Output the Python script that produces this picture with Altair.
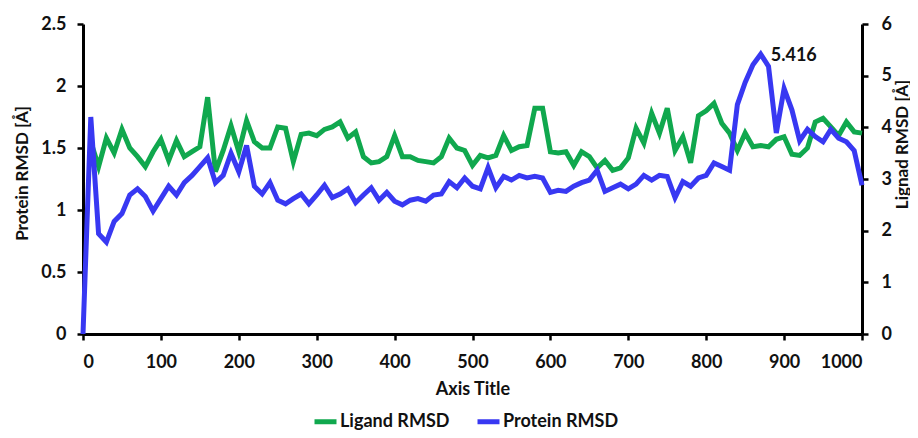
import altair as alt
import pandas as pd

# time axis (every 10 units)
time_all = list(range(0, 1001, 10))

# Protein RMSD (plotted on the right axis, 0-6)
protein_rmsd = [
    0.00, 4.20, 1.94, 1.78, 2.18, 2.33, 2.69, 2.81, 2.66, 2.38,
    2.62, 2.86, 2.69, 2.93, 3.07, 3.24, 3.41, 2.93, 3.07, 3.50,
    3.14, 3.65, 2.86, 2.71, 2.93, 2.59, 2.52, 2.62, 2.71, 2.52,
    2.69, 2.88, 2.64, 2.71, 2.81, 2.54, 2.69, 2.83, 2.59, 2.74,
    2.57, 2.50, 2.59, 2.62, 2.57, 2.69, 2.71, 2.95, 2.83, 3.02,
    2.86, 2.81, 3.22, 2.83, 3.05, 2.98, 3.07, 3.02, 3.05, 3.02,
    2.74, 2.78, 2.76, 2.86, 2.93, 2.98, 3.17, 2.76, 2.83, 2.90,
    2.81, 2.90, 3.07, 2.98, 3.07, 3.05, 2.64, 2.95, 2.86, 3.02,
    3.07, 3.31, 3.24, 3.17, 4.44, 4.87, 5.21, 5.416, 5.18, 3.89,
    4.75, 4.34, 3.74, 3.96, 3.82, 3.72, 3.96, 3.79, 3.72, 3.55,
    2.88,
]

# Ligand RMSD (plotted on the left axis, 0-2.5), starts at t=10
time_lig = list(range(10, 1001, 10))
ligand_rmsd = [
    1.55, 1.35, 1.58, 1.46, 1.65, 1.50, 1.43, 1.35, 1.47,
    1.57, 1.40, 1.56, 1.43, 1.47, 1.51, 1.91, 1.31, 1.48, 1.68,
    1.47, 1.72, 1.55, 1.50, 1.50, 1.67, 1.66, 1.39, 1.61, 1.62,
    1.60, 1.65, 1.67, 1.71, 1.58, 1.63, 1.43, 1.38, 1.39, 1.43,
    1.60, 1.43, 1.43, 1.40, 1.39, 1.38, 1.43, 1.58, 1.50, 1.48,
    1.36, 1.44, 1.42, 1.44, 1.60, 1.48, 1.51, 1.52, 1.82, 1.82,
    1.47, 1.46, 1.47, 1.36, 1.47, 1.43, 1.34, 1.40, 1.32, 1.34,
    1.42, 1.66, 1.54, 1.78, 1.62, 1.82, 1.48, 1.59, 1.38, 1.76,
    1.80, 1.86, 1.70, 1.62, 1.48, 1.62, 1.51, 1.52, 1.51, 1.57,
    1.59, 1.45, 1.44, 1.50, 1.71, 1.74, 1.67, 1.60, 1.71, 1.63,
    1.62,
]

series_names = ["Ligand RMSD", "Protein RMSD"]
series_colors = ["#10A84E", "#3838F2"]
peak_label = "5.416"

FONT = "Lato"

prot_df = pd.DataFrame({"t": time_all, "v": protein_rmsd, "s": series_names[1]})
lig_df = pd.DataFrame({"t": time_lig, "v": ligand_rmsd, "s": series_names[0]})
peak_df = prot_df[prot_df["v"] == max(protein_rmsd)].assign(lab=peak_label)

color = alt.Color(
    "s:N",
    scale=alt.Scale(domain=series_names, range=series_colors),
    legend=alt.Legend(
        title=None, orient="none", legendX=229, legendY=384,
        direction="horizontal", symbolType="stroke", symbolStrokeWidth=5,
        symbolSize=484, labelFont=FONT, labelFontSize=18, labelFontWeight="bold",
        labelColor="#111", labelOffset=1, columnPadding=17,
    ),
)

x_enc = alt.X(
    "t:Q",
    scale=alt.Scale(domain=[0, 1000], nice=False),
    axis=alt.Axis(values=list(range(0, 1001, 100)), format="d",
                  title="Axis Title", titlePadding=9, labelPadding=13,
                  titleFontSize=18),
)

left_axis = alt.Axis(values=[0, 0.5, 1, 1.5, 2, 2.5], format="~g",
                     title="Protein RMSD [Å]", titleAngle=270,
                     titleX=-61, titleY=149, titleAlign="center",
                     titleBaseline="middle", labelPadding=11)
right_axis = alt.Axis(values=[0, 1, 2, 3, 4, 5, 6], format="d", orient="right",
                      title="Lignad RMSD [Å]", titleAngle=270,
                      titleX=40, titleY=120, titleAlign="center",
                      titleBaseline="middle", labelPadding=13)

green = alt.Chart(lig_df).mark_line(strokeWidth=5, strokeJoin="miter").encode(
    x=x_enc,
    y=alt.Y("v:Q", scale=alt.Scale(domain=[0, 2.5], nice=False), axis=left_axis),
    color=color,
)

yr = alt.Y("v:Q", scale=alt.Scale(domain=[0, 6], nice=False), axis=right_axis)

blue_line = alt.Chart(prot_df).mark_line(strokeWidth=5, strokeJoin="miter").encode(
    x=x_enc, y=yr, color=color,
)
blue_text = alt.Chart(peak_df).mark_text(
    align="left", baseline="middle", dx=10, dy=2, font=FONT, fontSize=18,
    fontWeight="bold", color="#111",
).encode(x=x_enc, y=yr, text="lab:N")

blue = alt.layer(blue_line, blue_text)

chart = alt.layer(green, blue).resolve_scale(y="independent").properties(
    width=779, height=310,
    autosize=alt.AutoSizeParams(type="none"),
    padding={"left": 75, "top": 16, "right": 48, "bottom": 96},
).configure_view(stroke=None).configure_axis(
    grid=False, domainColor="#000", domainWidth=3, tickColor="#000",
    tickWidth=2.5, tickSize=6, labelFont=FONT, labelFontSize=18,
    labelFontWeight="bold", labelColor="#111",
    titleFont=FONT, titleFontSize=17, titleFontWeight="bold", titleColor="#111",
)

chart.save("out.html", embed_options={"renderer": "svg", "actions": False})
